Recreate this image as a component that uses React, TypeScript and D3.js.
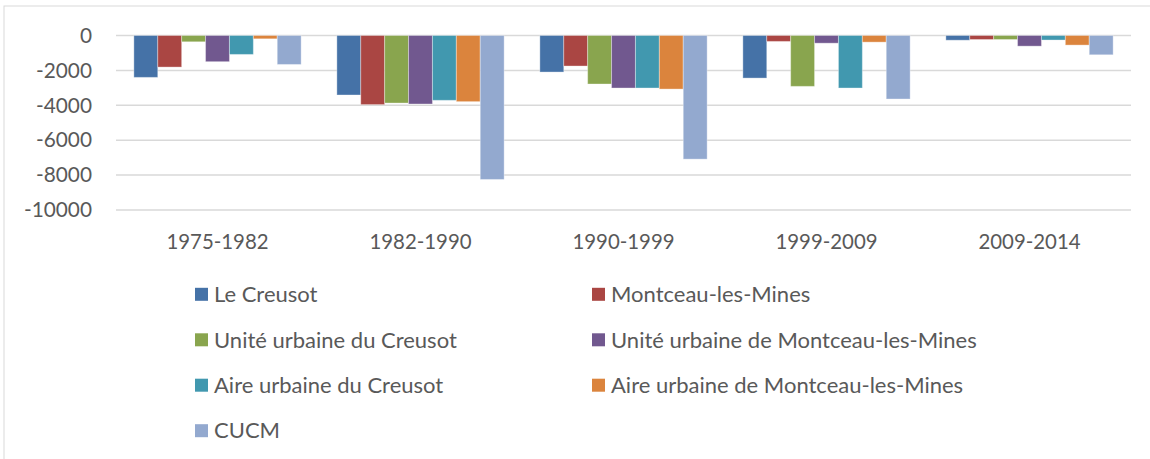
import React from 'react'
import * as d3 from 'd3'

const PERIODS = ['1975-1982', '1982-1990', '1990-1999', '1999-2009', '2009-2014']

const SERIES = [
  'Le Creusot',
  'Montceau-les-Mines',
  'Unité urbaine du Creusot',
  'Unité urbaine de Montceau-les-Mines',
  'Aire urbaine du Creusot',
  'Aire urbaine de Montceau-les-Mines',
  'CUCM',
]

const COLORS = ['#4572A7', '#AA4643', '#89A54E', '#71588F', '#4198AF', '#DB843D', '#93A9CF']

// values per period, one per series (same order as SERIES)
const V_1975_1982 = [-2400, -1810, -360, -1500, -1085, -190, -1660]
const V_1982_1990 = [-3410, -3960, -3870, -3925, -3715, -3790, -8250]
const V_1990_1999 = [-2095, -1750, -2780, -3010, -3010, -3070, -7085]
const V_1999_2009 = [-2440, -340, -2915, -440, -3010, -380, -3640]
const V_2009_2014 = [-270, -230, -230, -610, -260, -550, -1105]

const Y_TICKS = [0, -2000, -4000, -6000, -8000, -10000]

const VALUES = [V_1975_1982, V_1982_1990, V_1990_1999, V_1999_2009, V_2009_2014]

const FONT = 'Lato, "Open Sans", sans-serif'
const TEXT = '#595959'

export default function App() {
  const left = 116
  const right = 1131
  const top = 35.5
  const bottom = 210

  const x0 = d3.scaleBand<string>()
    .domain(PERIODS)
    .range([left, right])
    .paddingInner(0.176)
    .paddingOuter(0.088)

  const x1 = d3.scaleBand<string>()
    .domain(SERIES)
    .range([0, x0.bandwidth()])

  const y = d3.scaleLinear().domain([-10000, 0]).range([bottom, top])

  // legend grid
  const legendCols = [195, 592]
  const legendRows = [294.3, 339.8, 385.2, 430.7]

  return (
    <svg
      width={1150}
      height={459}
      style={{ position: 'absolute', left: 0, top: 0, background: '#fff' }}
      fontFamily={FONT}
    >
      <rect x={4} y={6} width={1160} height={470} fill="#fff" stroke="#d9d9d9" strokeWidth={1} />

      {Y_TICKS.map((t) => (
        <g key={t}>
          <line x1={left} x2={right} y1={y(t)} y2={y(t)} stroke="#d9d9d9" strokeWidth={1.5} />
          <text x={92} y={y(t)} dy="0.35em" textAnchor="end" fontSize={20.8} fill={TEXT}>
            {t}
          </text>
        </g>
      ))}

      {PERIODS.map((p, i) => (
        <g key={p} transform={`translate(${x0(p)},0)`}>
          {SERIES.map((s, j) => {
            const v = VALUES[i][j]
            return (
              <rect
                key={s}
                x={x1(s)}
                y={y(0)}
                width={x1.bandwidth()}
                height={y(v) - y(0)}
                fill={COLORS[j]}
                stroke="#ffffff"
                strokeOpacity={0.35}
                strokeWidth={1}
              />
            )
          })}
        </g>
      ))}

      {PERIODS.map((p) => (
        <text
          key={p}
          x={(x0(p) as number) + x0.bandwidth() / 2}
          y={241.7}
          dy="0.35em"
          textAnchor="middle"
          fontSize={20.4}
          fill={TEXT}
        >
          {p}
        </text>
      ))}

      {SERIES.map((s, j) => {
        const cx = legendCols[j % 2]
        const cy = legendRows[Math.floor(j / 2)]
        return (
          <g key={s}>
            <rect x={cx} y={cy - 6.5} width={13} height={13} fill={COLORS[j]} />
            <text x={cx + 19} y={cy} dy="0.35em" fontSize={22} fill={TEXT}>
              {s}
            </text>
          </g>
        )
      })}
    </svg>
  )
}
